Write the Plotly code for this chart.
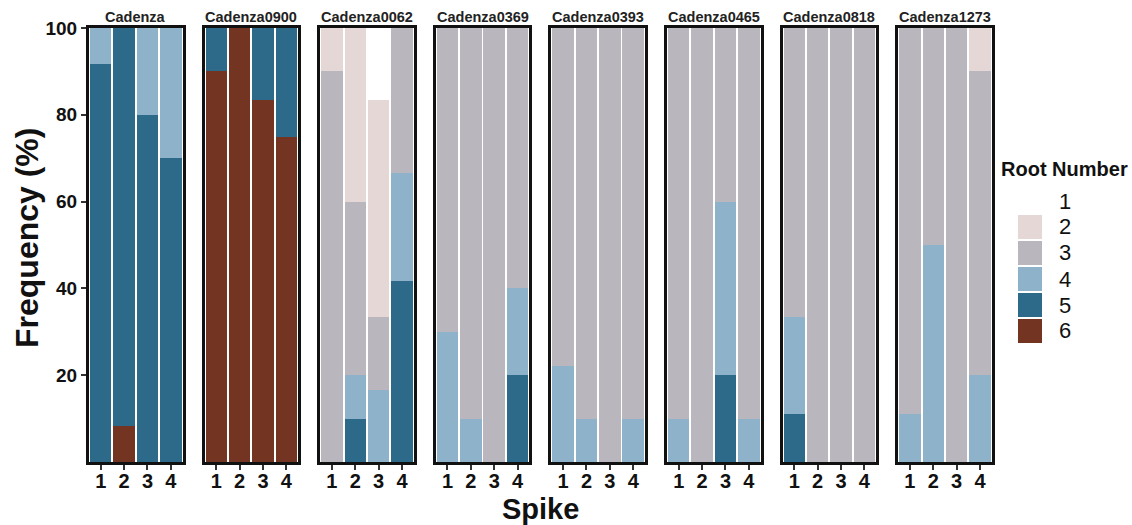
import plotly.graph_objects as go

# ---------------- data ----------------
genotypes = ["Cadenza", "Cadenza0900", "Cadenza0062", "Cadenza0369",
             "Cadenza0393", "Cadenza0465", "Cadenza0818", "Cadenza1273"]
spikes = [1, 2, 3, 4]
root_numbers = ["1", "2", "3", "4", "5", "6"]
root_colors = ["#FFFFFF", "#E6D7D7", "#B9B6BD", "#8EB2C9", "#2D6A89", "#733421"]

# Frequency (%) of each root number, per genotype (rows) and spike 1-4 (columns)
root1 = [[0, 0, 0, 0], [0, 0, 0, 0], [0, 0, 16.7, 0], [0, 0, 0, 0],
         [0, 0, 0, 0], [0, 0, 0, 0], [0, 0, 0, 0], [0, 0, 0, 0]]
root2 = [[0, 0, 0, 0], [0, 0, 0, 0], [10, 40, 50, 0], [0, 0, 0, 0],
         [0, 0, 0, 0], [0, 0, 0, 0], [0, 0, 0, 0], [0, 0, 0, 10]]
root3 = [[0, 0, 0, 0], [0, 0, 0, 0], [90, 40, 16.6, 33.3], [70, 90, 100, 60],
         [77.8, 90, 100, 90], [90, 100, 40, 90], [66.7, 100, 100, 100], [88.9, 50, 100, 70]]
root4 = [[8.3, 0, 20, 30], [0, 0, 0, 0], [0, 10, 16.7, 25], [30, 10, 0, 20],
         [22.2, 10, 0, 10], [10, 0, 40, 10], [22.2, 0, 0, 0], [11.1, 50, 0, 20]]
root5 = [[91.7, 91.7, 80, 70], [10, 0, 16.7, 25], [0, 10, 0, 41.7], [0, 0, 0, 20],
         [0, 0, 0, 0], [0, 0, 20, 0], [11.1, 0, 0, 0], [0, 0, 0, 0]]
root6 = [[0, 8.3, 0, 0], [90, 100, 83.3, 75], [0, 0, 0, 0], [0, 0, 0, 0],
         [0, 0, 0, 0], [0, 0, 0, 0], [0, 0, 0, 0], [0, 0, 0, 0]]
root_data = [root1, root2, root3, root4, root5, root6]

y_ticks = [20, 40, 60, 80, 100]

# ---------------- layout geometry ----------------
W, H = 1132, 525
ML, MR, MT, MB = 89, 140, 28, 63
PW = W - ML - MR
PH = H - MT - MB
panel_w = 93.5
panel_step = 115.6
FONT = "Liberation Sans, Arial, sans-serif"


def px2x(px):
    return (px - ML) / PW


def px2y(py):
    return (H - MB - py) / PH


fig = go.Figure()

n = len(genotypes)
for g in range(n):
    ax = "" if g == 0 else str(g + 1)
    # stack from bottom: root 6 first, root 1 last (top)
    for r in reversed(range(len(root_numbers))):
        fig.add_trace(go.Bar(
            x=spikes, y=root_data[r][g],
            xaxis="x" + ax, yaxis="y" + ax,
            marker=dict(color=root_colors[r], line=dict(width=0)),
            name=root_numbers[r], showlegend=False,
        ))
    d0 = g * panel_step / PW
    d1 = (g * panel_step + panel_w) / PW
    fig.layout["xaxis" + ax] = dict(
        domain=[d0, d1], range=[0.5, 4.5], anchor="y" + ax,
        tickvals=spikes, ticktext=[str(s) for s in spikes],
        ticks="outside", ticklen=5, tickwidth=1.5, tickcolor="#333333",
        ticklabelstandoff=-6,
        tickfont=dict(family=FONT, size=20, color="#111111", weight="bold"),
        showline=True, mirror=True, linewidth=3, linecolor="#111111",
        showgrid=False, zeroline=False, fixedrange=True,
    )
    ydict = dict(
        domain=[0, 1], range=[0, 100], anchor="x" + ax,
        showline=True, mirror=True, linewidth=3, linecolor="#111111",
        showgrid=False, zeroline=False, fixedrange=True,
    )
    if g == 0:
        ydict.update(tickvals=y_ticks, ticktext=[str(t) for t in y_ticks],
                     ticks="outside", ticklen=5, tickwidth=1.5, tickcolor="#333333",
                     tickfont=dict(family=FONT, size=19, color="#111111", weight="bold"))
    else:
        ydict.update(showticklabels=False, ticks="")
    fig.layout["yaxis" + ax] = ydict
    # panel (facet) title
    fig.add_annotation(
        x=(d0 + d1) / 2, y=1, xref="paper", yref="paper",
        xanchor="center", yanchor="bottom", yshift=1,
        text="<b>" + genotypes[g] + "</b>", showarrow=False,
        font=dict(family=FONT, size=14.5, color="#222222"),
    )

# axis titles
fig.add_annotation(
    x=((n - 1) * panel_step + panel_w) / 2 / PW, y=px2y(509),
    xref="paper", yref="paper", xanchor="center", yanchor="middle",
    text="<b>Spike</b>", showarrow=False, borderpad=0,
    font=dict(family=FONT, size=29, color="#111111"),
)
fig.add_annotation(
    x=px2x(27), y=px2y(238), xref="paper", yref="paper",
    xanchor="center", yanchor="middle", textangle=-90,
    text="<b>Frequency (%)</b>", showarrow=False,
    font=dict(family=FONT, size=32, color="#111111"),
)

# custom legend
fig.add_annotation(
    x=px2x(1064), y=px2y(169), xref="paper", yref="paper",
    xanchor="center", yanchor="middle",
    text="<b>Root Number</b>", showarrow=False,
    font=dict(family=FONT, size=20, color="#111111"),
)
for i, (lab, col) in enumerate(zip(root_numbers, root_colors)):
    top = 189 + i * 26
    fig.add_shape(
        type="rect", xref="paper", yref="paper",
        x0=px2x(1018), x1=px2x(1042), y0=px2y(top + 24), y1=px2y(top),
        fillcolor=col, line=dict(width=0),
    )
    fig.add_annotation(
        x=px2x(1057), y=px2y(top + 12), xref="paper", yref="paper",
        xanchor="left", yanchor="middle", text=lab, showarrow=False,
        font=dict(family=FONT, size=22, color="#111111"),
    )

fig.update_layout(
    width=W, height=H,
    margin=dict(l=ML, r=MR, t=MT, b=MB, pad=0),
    barmode="stack", bargap=0.08,
    plot_bgcolor="white", paper_bgcolor="white",
    font=dict(family=FONT),
    showlegend=False,
)

fig.write_html("out.html",
               config={"displayModeBar": False},
               post_script="document.body.style.margin='0';document.body.style.overflow='hidden';")
